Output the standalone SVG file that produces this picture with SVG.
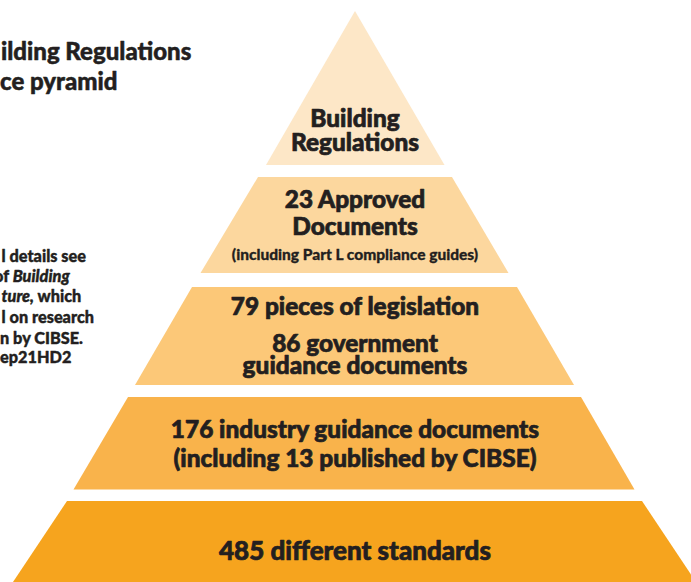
<svg xmlns="http://www.w3.org/2000/svg" width="691" height="582" viewBox="0 0 691 582">
<style>
text{font-family:Lato,"Liberation Sans","DejaVu Sans",sans-serif;font-weight:900;fill:#231f20;stroke:#231f20;stroke-width:0.5;stroke-linejoin:round}
.big{font-size:24.4px;text-anchor:middle;stroke-width:0.7}
.sm{font-size:15.5px;text-anchor:middle;stroke-width:0.3}
.title{font-size:24px;stroke-width:0.5}
.note{font-size:16.3px;stroke-width:0.4}
.it{font-style:italic}
</style>
<rect width="691" height="582" fill="#ffffff"/>
<g id="title">
<text class="title" x="1" y="60">ilding Regulations</text>
<text class="title" x="0" y="90">ce pyramid</text>
</g>
<g id="note">
<text class="note" x="1.5" y="262">l details see</text>
<text class="note" x="-6" y="282">of <tspan class="it">Building</tspan></text>
<text class="note" x="1.5" y="302"><tspan class="it">ture,</tspan> which</text>
<text class="note" x="1.5" y="323">l on research</text>
<text class="note" x="0" y="344">n by CIBSE.</text>
<text class="note" x="0" y="363">ep21HD2</text>
</g>
<g id="tier1">
<polygon points="355,11 444.5,165 266,165" fill="#fde7c7"/>
<text class="big" x="355" y="127">Building</text>
<text class="big" x="355" y="151">Regulations</text>
</g>
<g id="tier2">
<polygon points="258,177 452,177 508.5,273 200.5,273" fill="#fcd79e"/>
<text class="big" x="355" y="208">23 Approved</text>
<text class="big" x="355" y="235">Documents</text>
<text class="sm" x="355" y="260">(including Part L compliance guides)</text>
</g>
<g id="tier3">
<polygon points="192,287 517,287 574,385 135,385" fill="#fcc878"/>
<text class="big" x="355" y="315">79 pieces of legislation</text>
<text class="big" x="355" y="352">86 government</text>
<text class="big" x="355" y="374">guidance documents</text>
</g>
<g id="tier4">
<polygon points="128,397 581,397 634.5,489.5 73.5,489.5" fill="#f9b34b"/>
<text class="big" x="355" y="438">176 industry guidance documents</text>
<text class="big" x="355" y="467">(including 13 published by CIBSE)</text>
</g>
<g id="tier5">
<polygon points="67,501 642,501 696,582 13,582" fill="#f6a41e"/>
<text class="big" x="355" y="560" style="font-size:26px">485 different standards</text>
</g>
</svg>
